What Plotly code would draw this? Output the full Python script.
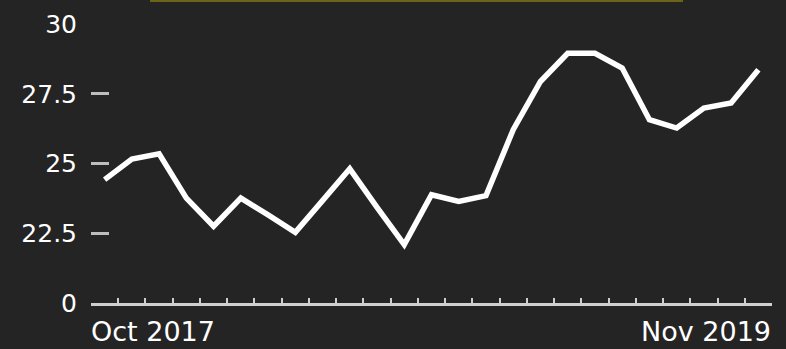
import plotly.graph_objects as go

# Monthly readings, Oct 2017 through Nov 2019
values = [24.42, 25.16, 25.35, 23.76, 22.75, 23.76, 23.16, 22.53, 23.67, 24.81,
          23.43, 22.09, 23.88, 23.64, 23.85, 26.21, 27.94, 28.95, 28.95, 28.42,
          26.57, 26.27, 26.99, 27.17, 28.36]
x_idx = list(range(len(values)))

# Y axis: the baseline is labelled 0 (broken axis), the rest show real values
y_tickvals = [20, 22.5, 25, 27.5, 30]
y_ticktext = ["0", "22.5", "25", "27.5", "30"]
x_end_labels = ["Oct 2017", "Nov 2019"]

W, H = 786, 349
ML, MR, MT, MB = 91, 14, 24, 46
BG = "#242424"
FONT = "DejaVu Sans"

fig = go.Figure()
fig.add_trace(go.Scatter(
    x=x_idx, y=values, mode="lines",
    line=dict(color="#ffffff", width=5.5),
    hoverinfo="skip", showlegend=False,
))

n = len(values)
fig.update_layout(
    width=W, height=H,
    margin=dict(l=ML, r=MR, t=MT, b=MB, pad=0),
    paper_bgcolor=BG, plot_bgcolor=BG,
    font=dict(family=FONT, color="#ffffff"),
    xaxis=dict(
        range=[-0.5, n - 0.5],
        tickmode="array",
        tickvals=[k - 0.5 for k in range(n + 1)],
        showticklabels=False,
        ticks="inside", ticklen=5, tickwidth=2, tickcolor="#cfcfcf",
        showline=True, linecolor="#cfcfcf", linewidth=2.5,
        showgrid=False, zeroline=False, automargin=False,
    ),
    yaxis=dict(
        range=[20, 30],
        tickmode="array", tickvals=y_tickvals, ticktext=y_ticktext,
        ticks="inside", ticklen=18, tickwidth=3, tickcolor="#bdbdbd",
        tickfont=dict(family=FONT, size=25, color="#ffffff"),
        ticklabelstandoff=13,
        showline=False, showgrid=False, zeroline=False, automargin=False,
    ),
)

# End labels of the time axis
fig.add_annotation(x=0, y=0, xref="paper", yref="paper", xanchor="left", yanchor="top",
                   yshift=-11, xshift=-2, text=x_end_labels[0], showarrow=False,
                   font=dict(family=FONT, size=27, color="#ffffff"))
fig.add_annotation(x=1, y=0, xref="paper", yref="paper", xanchor="right", yanchor="top",
                   yshift=-11, xshift=1, text=x_end_labels[1], showarrow=False,
                   font=dict(family=FONT, size=27, color="#ffffff"))

# Olive edge of the panel above the chart
pw = W - ML - MR
ph = H - MT - MB
fig.add_shape(type="line", xref="paper", yref="paper",
              x0=(150 - ML) / pw, x1=(683 - ML) / pw,
              y0=(H - MB - 0.5) / ph, y1=(H - MB - 0.5) / ph,
              line=dict(color="#6a6416", width=3))

fig.write_html("out.html")
